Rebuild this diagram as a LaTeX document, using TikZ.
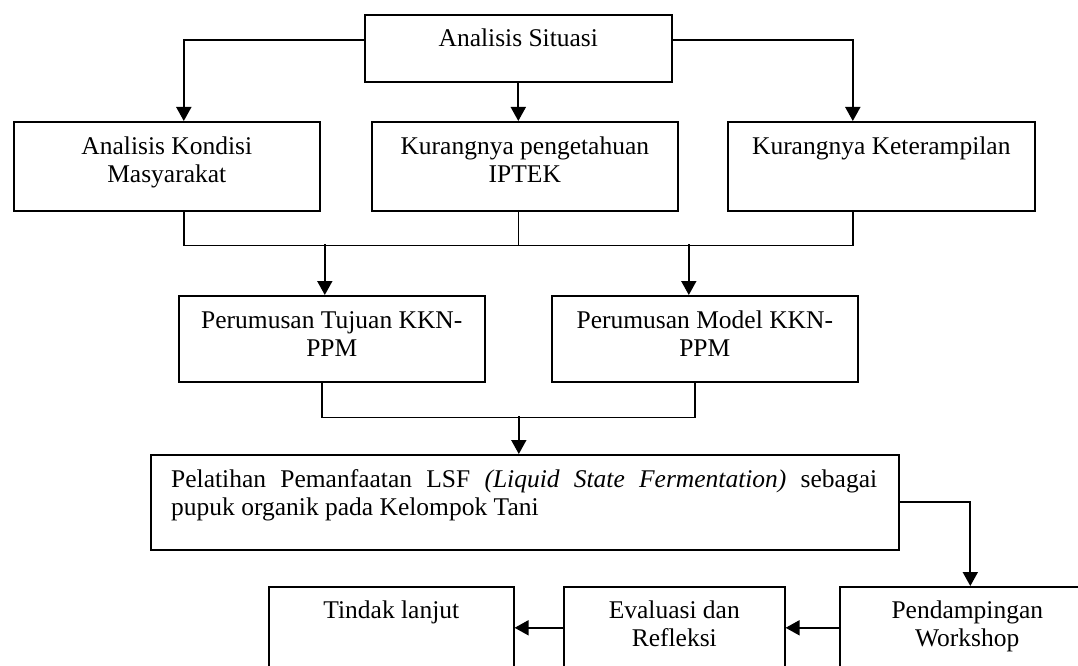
\documentclass[tikz,border=0pt]{standalone}
\usepackage{fontspec}
\setmainfont{Liberation Serif}
\usetikzlibrary{arrows.meta,calc}
\begin{document}
\begin{tikzpicture}[x=1pt,y=-1pt,
  box/.style={draw, line width=1.6pt, inner sep=0pt, anchor=north west},
  txt/.style={inner sep=0pt, anchor=base, font=\fontsize{25.5}{28.5}\selectfont},
  link/.style={line width=1.6pt},
  arr/.style={line width=1.8pt, -{Triangle[width=15pt,length=14pt]}}]
\useasboundingbox (0,0) rectangle (1078,666);
\fill[white] (0,0) rectangle (1078,666);
\clip (0,0) rectangle (1078,666);

% boxes
\node[box, minimum width=307pt, minimum height=67pt] (sit) at (364,14) {};
\node[box, minimum width=306pt, minimum height=89pt] (b1) at (13,121) {};
\node[box, minimum width=306pt, minimum height=89pt] (b2) at (371,121) {};
\node[box, minimum width=307pt, minimum height=89pt] (b3) at (727,121) {};
\node[box, minimum width=306pt, minimum height=86pt] (b4) at (178,295) {};
\node[box, minimum width=306pt, minimum height=86pt] (b5) at (551,295) {};
\node[box, minimum width=748pt, minimum height=95pt] (b6) at (150,454) {};
\node[box, minimum width=255pt, minimum height=82pt] (b7) at (839,586) {};
\node[box, minimum width=221pt, minimum height=82pt] (b8) at (563,586) {};
\node[box, minimum width=245pt, minimum height=82pt] (b9) at (268,586) {};

% texts
\node[txt, yshift=-33pt] (tsit) at (sit.north) {\parbox[t]{300pt}{\centering Analisis Situasi}};
\node[txt, yshift=-33pt] (t1) at (b1.north) {\parbox[t]{300pt}{\centering Analisis Kondisi\\Masyarakat}};
\node[txt, yshift=-33pt] (t2) at (b2.north) {\parbox[t]{300pt}{\centering Kurangnya pengetahuan\\IPTEK}};
\node[txt, yshift=-33pt] (t3) at (b3.north) {\parbox[t]{300pt}{\centering Kurangnya Keterampilan}};
\node[txt, yshift=-33pt] (t4) at (b4.north) {\parbox[t]{300pt}{\centering Perumusan Tujuan KKN-\\PPM}};
\node[txt, yshift=-33pt] (t5) at (b5.north) {\parbox[t]{300pt}{\centering Perumusan Model KKN-\\PPM}};
\node[txt, anchor=base west, xshift=21pt, yshift=-33pt] (t6) at (b6.north west)
  {\parbox[t]{706pt}{Pelatihan Pemanfaatan LSF \textit{(Liquid State Fermentation)} sebagai\linebreak pupuk organik pada Kelompok Tani}};
\node[txt, yshift=-32pt] (t7) at (b7.north) {\parbox[t]{250pt}{\centering Pendampingan\\Workshop}};
\node[txt, yshift=-32pt] (t8) at (b8.north) {\parbox[t]{215pt}{\centering Evaluasi dan\\Refleksi}};
\node[txt, yshift=-32pt] (t9) at (b9.north) {\parbox[t]{240pt}{\centering Tindak lanjut}};

% connectors
\draw[arr] ([yshift=8.5pt]sit.west) -| ([xshift=17pt]b1.north);
\draw[arr] (sit.south) -- (sit.south |- b2.north);
\draw[arr] ([yshift=8.5pt]sit.east) -| ([xshift=-28.5pt]b3.north);

\draw[link] ([xshift=17pt]b1.south) -- ++(0,34) -| ([xshift=-28.5pt]b3.south);
\draw[link] (b2.south -| sit.south) -- ++(0,34);
\draw[arr] ([xshift=-7pt,yshift=51pt]b4.north) -- ([xshift=-7pt]b4.north);
\draw[arr] ([xshift=-16pt,yshift=51pt]b5.north) -- ([xshift=-16pt]b5.north);

\draw[link] ([xshift=-10pt]b4.south) -- ++(0,35) -| ([xshift=-10pt]b5.south);
\draw[arr] ([xshift=-6pt,yshift=38pt]b6.north) -- ([xshift=-6pt]b6.north);

\draw[arr] (b6.east) -| ([xshift=3pt]b7.north);
\draw[arr] (b7.west) -- (b8.east);
\draw[arr] (b8.west) -- (b9.east);
\end{tikzpicture}
\end{document}
